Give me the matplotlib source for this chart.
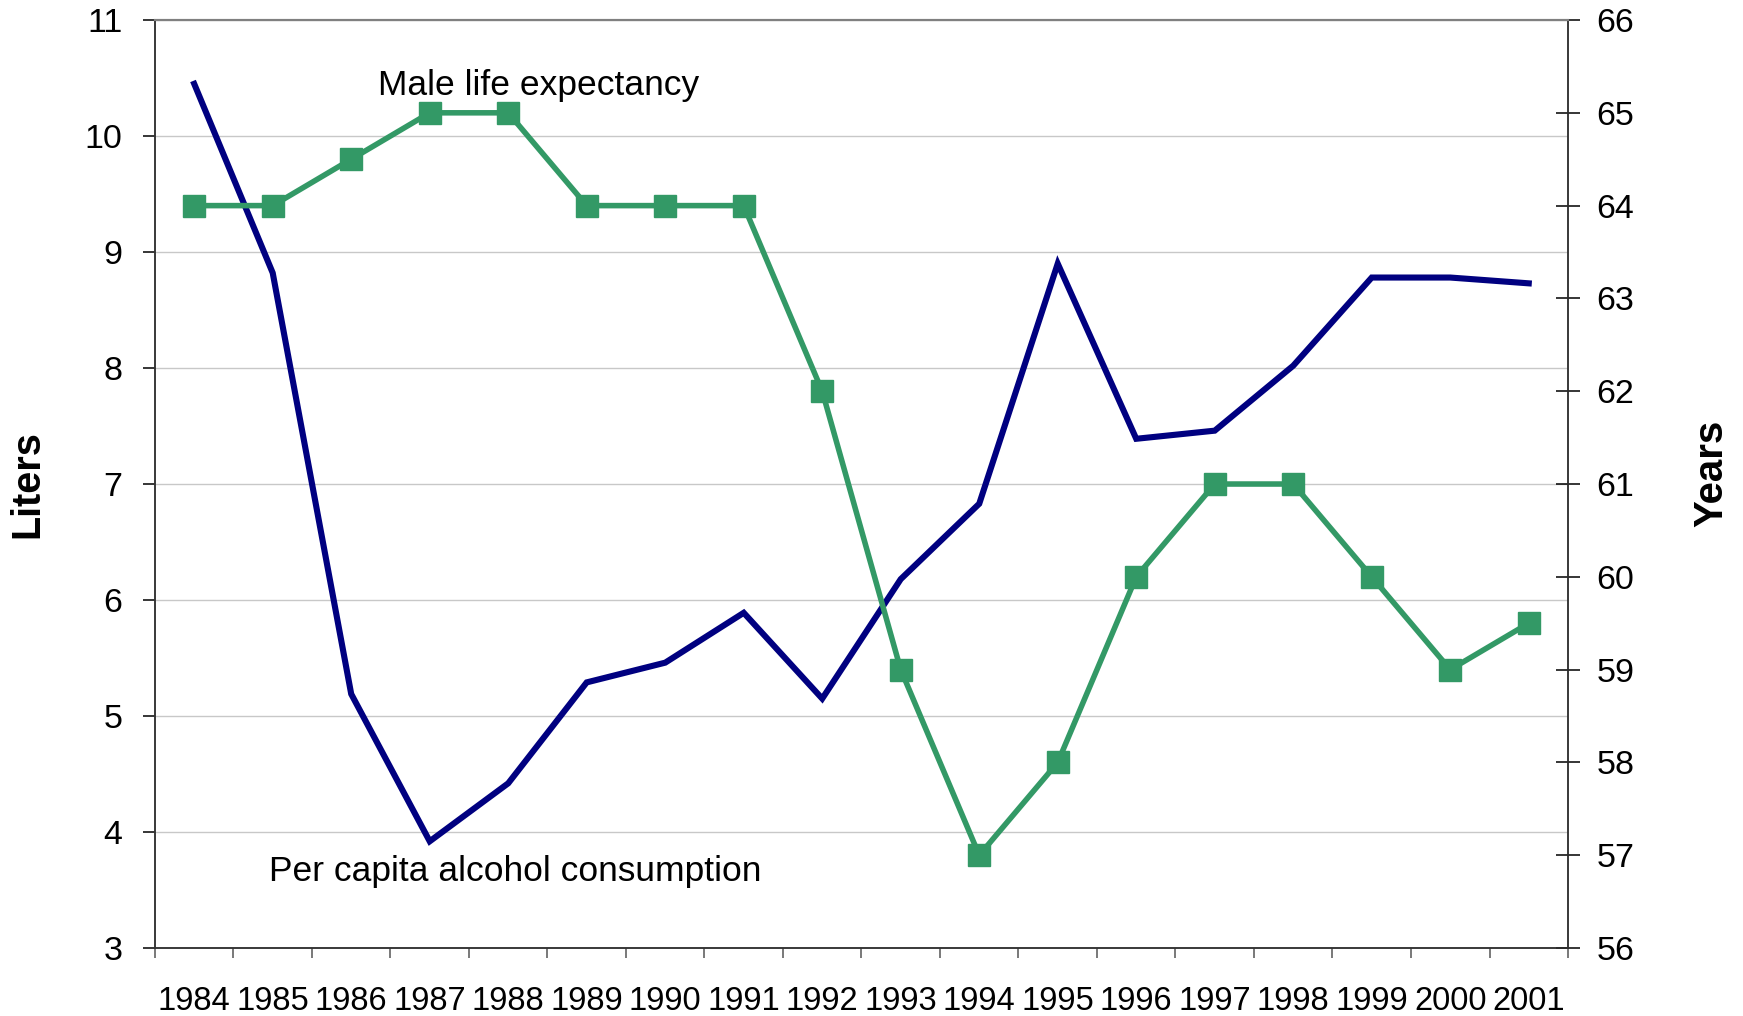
import matplotlib
matplotlib.use('Agg')
import matplotlib.pyplot as plt
import numpy as np

plt.rcParams['font.family'] = ['Liberation Sans', 'DejaVu Sans']

# Data
years = ['1984', '1985', '1986', '1987', '1988', '1989', '1990', '1991', '1992',
         '1993', '1994', '1995', '1996', '1997', '1998', '1999', '2000', '2001']
alcohol_liters = [10.45, 8.82, 5.19, 3.92, 4.42, 5.29, 5.46, 5.89, 5.15,
                  6.18, 6.83, 8.90, 7.39, 7.46, 8.02, 8.78, 8.78, 8.73]
male_life_exp = [64, 64, 64.5, 65, 65, 64, 64, 64, 62,
                 59, 57, 58, 60, 61, 61, 60, 59, 59.5]
left_ticks = list(range(3, 12))
right_ticks = list(range(56, 67))

blue = '#000080'
green = '#339966'

fig = plt.figure(figsize=(17.43, 10.16), dpi=100)
ax = fig.add_axes([0.0889, 0.0669, 0.8107, 0.9134])
ax2 = ax.twinx()

x = np.arange(len(years))

ax.plot(x, alcohol_liters, color=blue, lw=4.4, solid_joinstyle='miter', zorder=3)
ax2.plot(x, male_life_exp, color=green, lw=4.0, marker='s', markersize=16,
         markeredgecolor=green, zorder=3)

# left axis
ax.set_xlim(-0.5, len(years) - 0.5)
ax.set_ylim(3, 11)
ax.set_yticks(left_ticks)
ax.tick_params(axis='y', direction='out', length=8.5, width=1.1, pad=15, labelsize=24.5)
ax.yaxis.grid(True, color='#c8c8c8', lw=1.0)
ax.set_axisbelow(True)

# x axis: tick marks between categories, labels at centres
ax.set_xticks(x)
ax.set_xticklabels(years)
ax.set_xticks(np.arange(-0.5, len(years)), minor=True)
ax.tick_params(axis='x', which='major', length=0, pad=27, labelsize=23.5)
ax.tick_params(axis='x', which='minor', direction='out', length=7, width=1.1, color='#555555')

# right axis
ax2.set_ylim(56, 66)
ax2.set_yticks(right_ticks)
ax2.tick_params(axis='y', direction='inout', length=17, width=1.1, pad=12, labelsize=24.5)

for a in (ax, ax2):
    a.spines['top'].set_color('#808080')
    a.spines['top'].set_linewidth(1.5)
    for s in ('left', 'right', 'bottom'):
        a.spines[s].set_color('#333333')
        a.spines[s].set_linewidth(1.1)

ax.text(0.158, 0.929, 'Male life expectancy', transform=ax.transAxes,
        fontsize=25.5, va='center', ha='left')
ax.text(0.0807, 0.0826, 'Per capita alcohol consumption', transform=ax.transAxes,
        fontsize=25.5, va='center', ha='left')

fig.text(0.0158, 0.524, 'Liters', rotation=90, fontsize=28.5, fontweight='bold',
         ha='center', va='center')
fig.text(0.9816, 0.5345, 'Years', rotation=90, fontsize=29, fontweight='bold',
         ha='center', va='center')

fig.savefig('out.png', dpi=100)
